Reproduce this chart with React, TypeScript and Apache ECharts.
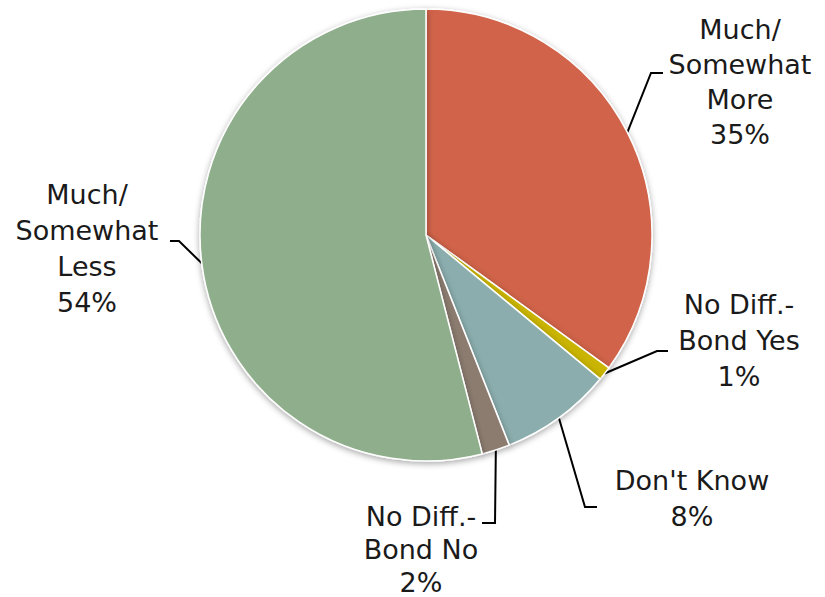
import React, { useEffect, useRef } from "react";
import * as echarts from "echarts";

const categories = [
  "Much/\nSomewhat\nMore",
  "No Diff.-\nBond Yes",
  "Don't Know",
  "No Diff.-\nBond No",
  "Much/\nSomewhat\nLess",
];
const values = [35, 1, 8, 2, 54];
const colors = ["#D0644A", "#C9B400", "#8BADAD", "#8C7B6F", "#8FAE8B"];

// label block centers (x, middle y) and line heights
const labelPos: [number, number][] = [
  [740, 82],
  [739, 340],
  [692, 498],
  [421, 549],
  [87, 248],
];
const labelLineHeights = [35, 36, 36, 33, 36];
// leader line elbow and end points
const leaderElbow: [number, number][] = [
  [651, 73],
  [657, 351],
  [585, 507],
  [495, 523],
  [179, 241],
];
const leaderEnd: [number, number][] = [
  [663, 73],
  [668, 351],
  [597, 507],
  [482, 523],
  [170, 241],
];

export default function App() {
  const ref = useRef<HTMLDivElement>(null);
  useEffect(() => {
    document.body.style.margin = "0";
    const chart = echarts.init(ref.current!, null, { renderer: "svg" });
    chart.setOption({
      animation: false,
      backgroundColor: "#ffffff",
      series: [
        {
          type: "pie",
          center: [426, 235],
          radius: 226,
          startAngle: 90,
          clockwise: true,
          data: categories.map((c, i) => ({
            name: c,
            value: values[i],
            itemStyle: { color: colors[i] },
            label: { lineHeight: labelLineHeights[i] },
          })),
          itemStyle: {
            borderColor: "#ffffff",
            borderWidth: 1.5,
            shadowBlur: 6,
            shadowColor: "rgba(0,0,0,0.35)",
            shadowOffsetY: 2,
          },
          label: {
            show: true,
            formatter: (p: any) => `${p.name}\n${p.value}%`,
            fontFamily: "DejaVu Sans",
            fontSize: 27,
            color: "#1a1a1a",
            align: "center",
          },
          labelLine: {
            show: true,
            length: 20,
            length2: 12,
            lineStyle: { color: "#000000", width: 2 },
          },
          labelLayout: (params: any) => {
            const i = params.dataIndex;
            const p = labelPos[i];
            const anchor = params.labelLinePoints
              ? params.labelLinePoints[0]
              : leaderElbow[i];
            return {
              x: p[0],
              y: p[1],
              align: "center",
              verticalAlign: "middle",
              labelLinePoints: [anchor, leaderElbow[i], leaderEnd[i]],
            };
          },
        },
      ],
    });
    return () => chart.dispose();
  }, []);
  return <div ref={ref} style={{ width: 825, height: 597 }} />;
}
